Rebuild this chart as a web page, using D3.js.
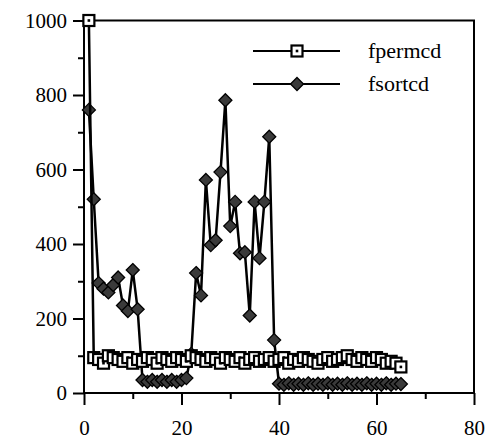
<!DOCTYPE html>
<html>
<head>
<meta charset="utf-8">
<script src="https://cdn.jsdelivr.net/npm/d3@7"></script>
<style>
  body { margin: 0; background: #fff; }
  svg { display: block; }
  .axis text { font-family: "Liberation Serif", "Times New Roman", serif; font-size: 21px; fill: #000; }
  .axis line { stroke: #000; stroke-width: 2; }
  .legend text { font-family: "Liberation Serif", "Times New Roman", serif; font-size: 22px; fill: #000; }
</style>
</head>
<body>
<svg id="chart"></svg>
<script>
const WIDTH = 490;
const HEIGHT = 441;

// series values, x = 1..65
const fpermcd = [1000, 95, 90, 80, 100, 95, 90, 85, 95, 80, 90, 85, 95, 90, 80, 95, 90, 85, 95, 90,
  85, 100, 95, 90, 85, 95, 90, 80, 95, 90, 85, 95, 80, 90, 95, 85, 90, 95, 85, 90,
  95, 80, 90, 85, 95, 90, 85, 80, 90, 95, 85, 90, 95, 100, 90, 85, 95, 90, 85, 95,
  90, 80, 85, 80, 70];
const fsortcd = [760, 520, 295, 280, 270, 290, 310, 235, 220, 330, 225, 35, 30, 35, 30, 35, 30, 35, 30, 35,
  40, 105, 322, 262, 572, 397, 410, 593, 786, 448, 513, 375, 378, 208, 513, 362, 513, 688, 142, 25,
  22, 26, 22, 25, 22, 26, 22, 25, 22, 26, 22, 25, 22, 26, 22, 25, 22, 26, 22, 25,
  22, 26, 22, 25, 24];
const seriesNames = ['fpermcd', 'fsortcd'];
const xTicks = [0, 20, 40, 60, 80];
const xMinor = [10, 30, 50, 70];
const yTicks = [0, 200, 400, 600, 800, 1000];
const yMinor = [100, 300, 500, 700, 900];

const svg = d3.select('#chart').attr('width', WIDTH).attr('height', HEIGHT);

const x = d3.scaleLinear().domain([0, 80]).range([84, 474]);
const y = d3.scaleLinear().domain([0, 1000]).range([393, 20.5]);

// Axes
svg.append('g').attr('class', 'axis').attr('transform', `translate(0, ${y(0)})`)
  .call(d3.axisBottom(x).tickValues(xTicks).tickSize(12).tickSizeOuter(0).tickPadding(15).tickFormat(d3.format('d')));
svg.append('g').attr('class', 'axis').attr('transform', `translate(0, ${y(0)})`)
  .call(d3.axisBottom(x).tickValues(xMinor).tickSize(6).tickSizeOuter(0).tickFormat(''));
svg.append('g').attr('class', 'axis').attr('transform', `translate(${x(0)}, 0)`)
  .call(d3.axisLeft(y).tickValues(yTicks).tickSize(11).tickSizeOuter(0).tickPadding(6).tickFormat(d3.format('d')));
svg.append('g').attr('class', 'axis').attr('transform', `translate(${x(0)}, 0)`)
  .call(d3.axisLeft(y).tickValues(yMinor).tickSize(6).tickSizeOuter(0).tickFormat(''));
svg.selectAll('.axis .domain').remove();

// Frame
svg.append('rect')
  .attr('x', x(0)).attr('y', y(1000))
  .attr('width', x(80) - x(0)).attr('height', y(0) - y(1000))
  .attr('fill', 'none').attr('stroke', '#000').attr('stroke-width', 2);

const line = d3.line().x((d, i) => x(i + 1)).y(d => y(d));

function drawSquare(g) {
  g.append('rect').attr('x', -5.5).attr('y', -5.5).attr('width', 11).attr('height', 11)
    .attr('fill', '#fff').attr('stroke', '#000').attr('stroke-width', 2.2);
  g.append('rect').attr('x', -1.3).attr('y', -1.3).attr('width', 2.6).attr('height', 2.6)
    .attr('fill', '#000');
}

function drawDiamond(g) {
  g.append('path').attr('d', 'M0,-6.5L6.5,0L0,6.5L-6.5,0Z')
    .attr('fill', '#3a3a3a').attr('stroke', '#000').attr('stroke-width', 1.3);
}

// fsortcd
svg.append('path').datum(fsortcd).attr('d', line)
  .attr('fill', 'none').attr('stroke', '#000').attr('stroke-width', 2.5);
svg.selectAll('.dia').data(fsortcd).enter().append('g')
  .attr('class', 'dia')
  .attr('transform', (d, i) => `translate(${x(i + 1)}, ${y(d)})`)
  .each(function() { drawDiamond(d3.select(this)); });

// fpermcd
svg.append('path').datum(fpermcd).attr('d', line)
  .attr('fill', 'none').attr('stroke', '#000').attr('stroke-width', 2.5);
svg.selectAll('.sq').data(fpermcd).enter().append('g')
  .attr('class', 'sq')
  .attr('transform', (d, i) => `translate(${x(i + 1)}, ${y(d)})`)
  .each(function() { drawSquare(d3.select(this)); });

// Legend
const legend = svg.append('g').attr('class', 'legend');
seriesNames.forEach((name, i) => {
  const ly = 51 + i * 33;
  const g = legend.append('g').attr('transform', `translate(0, ${ly})`);
  g.append('line').attr('x1', 253).attr('x2', 340).attr('y1', 0).attr('y2', 0)
    .attr('stroke', '#000').attr('stroke-width', 2);
  const m = g.append('g').attr('transform', 'translate(297, 0)');
  if (i === 0) drawSquare(m); else drawDiamond(m);
  g.append('text').attr('x', 368).attr('y', 7).text(name);
});
</script>
</body>
</html>
